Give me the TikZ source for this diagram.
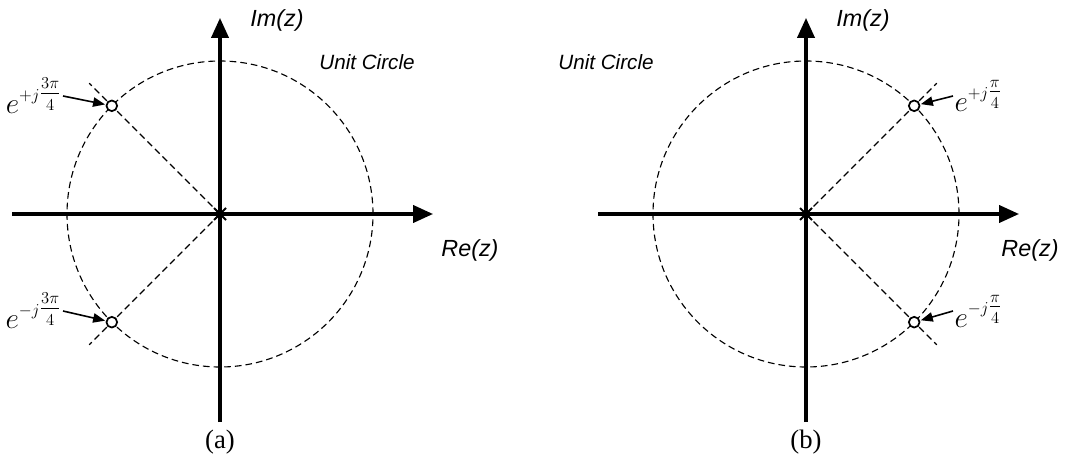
\RequirePackage{fix-cm}
\documentclass[tikz,border=0pt]{standalone}
\usepackage{amsmath}
\usepackage{fontspec}
\setmainfont{Liberation Serif}
\setsansfont{Liberation Sans}
\usetikzlibrary{arrows.meta,positioning,shapes.misc}
\DeclareMathSizes{22}{22}{12.5}{10}
\tikzset{
  axis/.style={line width=2.3pt,-{Triangle[length=15pt,width=13pt]}},
  unitcircle/.style={line width=0.85pt,dash pattern=on 5pt off 3pt},
  ray/.style={line width=0.85pt,dash pattern=on 5pt off 3pt},
  pole/.style={circle,draw,line width=1.3pt,fill=white,inner sep=0pt,minimum size=8pt},
  zero/.style={cross out,draw,line width=1.5pt,inner sep=0pt,minimum size=7.5pt},
  axislabel/.style={font=\sffamily\itshape\fontsize{17.5}{20}\selectfont},
  circlelabel/.style={font=\sffamily\itshape\fontsize{15.5}{18}\selectfont},
  polelabel/.style={font=\fontsize{22}{26}\selectfont,inner sep=1pt},
  polearrow/.style={-{Triangle[length=9pt,width=7pt]},line width=1.2pt,shorten >=0.5pt},
  caption/.style={font=\fontsize{20}{24}\selectfont}
}

\begin{document}
\begin{tikzpicture}[x=0.75pt,y=0.75pt]
  \useasboundingbox (0,0) rectangle (1067,472);

  % (a) poles at +-3pi/4
  \begin{scope}[shift={(220,258)}]
    \coordinate (oA) at (0,0);
    \coordinate (leftA) at (-208,0);
    \coordinate (rightA) at (213,0);
    \coordinate (downA) at (0,-208);
    \coordinate (upA) at (0,196);
    \coordinate (rayA1) at (135:185);
    \coordinate (rayA2) at (225:185);
    \draw[unitcircle] (oA) circle (153);
    \draw[ray] (oA) -- (rayA1);
    \draw[ray] (oA) -- (rayA2);
    \draw[axis] (leftA) -- (rightA);
    \draw[axis] (downA) -- (upA);
    \node[zero] (zeroA) at (oA) {};
    \node[pole] (poleA1) at (135:153) {};
    \node[pole] (poleA2) at (225:153) {};
    \node[axislabel] (imA) at (57,194) {Im(z)};
    \node[circlelabel] (ucA) at (147,152) {Unit Circle};
    \node[axislabel] (reA) at (250,-36) {Re(z)};
    \node[polelabel,anchor=east] (labA1) at (-157,118) {$e^{+j\tfrac{3\pi}{4}}$};
    \node[polelabel,anchor=east] (labA2) at (-157,-97) {$e^{-j\tfrac{3\pi}{4}}$};
    \draw[polearrow] (labA1.east) -- (poleA1);
    \draw[polearrow] (labA2.east) -- (poleA2);
    \node[caption] (capA) at (0,-228) {(a)};
  \end{scope}

  % (b) poles at +-pi/4
  \begin{scope}[shift={(806,258)}]
    \coordinate (oB) at (0,0);
    \coordinate (leftB) at (-208,0);
    \coordinate (rightB) at (213,0);
    \coordinate (downB) at (0,-208);
    \coordinate (upB) at (0,196);
    \coordinate (rayB1) at (45:185);
    \coordinate (rayB2) at (-45:185);
    \draw[unitcircle] (oB) circle (153);
    \draw[ray] (oB) -- (rayB1);
    \draw[ray] (oB) -- (rayB2);
    \draw[axis] (leftB) -- (rightB);
    \draw[axis] (downB) -- (upB);
    \node[zero] (zeroB) at (oB) {};
    \node[pole] (poleB1) at (45:153) {};
    \node[pole] (poleB2) at (-45:153) {};
    \node[axislabel] (imB) at (57,194) {Im(z)};
    \node[circlelabel] (ucB) at (-200,152) {Unit Circle};
    \node[axislabel] (reB) at (224,-36) {Re(z)};
    \node[polelabel,anchor=west] (labB1) at (147,118) {$e^{+j\tfrac{\pi}{4}}$};
    \node[polelabel,anchor=west] (labB2) at (147,-97) {$e^{-j\tfrac{\pi}{4}}$};
    \draw[polearrow] (labB1.west) -- (poleB1);
    \draw[polearrow] (labB2.west) -- (poleB2);
    \node[caption] (capB) at (0,-228) {(b)};
  \end{scope}
\end{tikzpicture}
\end{document}
